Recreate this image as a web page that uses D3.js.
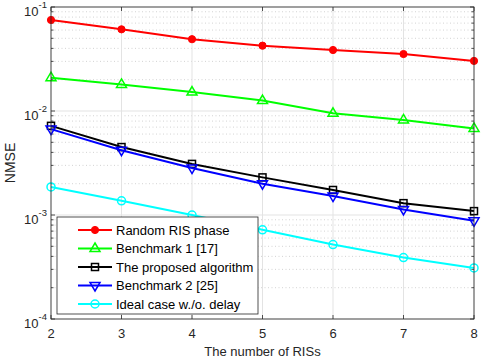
<!DOCTYPE html>
<html><head><meta charset="utf-8">
<script src="https://cdn.jsdelivr.net/npm/d3@7"></script>
<style>body{margin:0;background:#fff}svg{display:block;font-family:"Liberation Sans",Arial,sans-serif}</style>
</head><body>
<svg id="c" width="485" height="363"></svg>
<script>
const xValues = [2,3,4,5,6,7,8];
const seriesNames = ["Random RIS phase","Benchmark 1 [17]","The proposed algorithm","Benchmark 2 [25]","Ideal case w./o. delay"];
const randomPhase = [0.075,0.061,0.049,0.0425,0.0386,0.0353,0.0303];
const benchmark1 = [0.0209,0.018,0.0152,0.0126,0.0095,0.0082,0.0068];
const proposed = [0.0072,0.0045,0.0031,0.0023,0.00174,0.0013,0.00109];
const benchmark2 = [0.0067,0.0042,0.00283,0.0020,0.00152,0.00113,0.00088];
const idealCase = [0.00186,0.00137,0.00100,0.00072,0.00052,0.00039,0.00031];
const yTickExps = [-1,-2,-3,-4];
const xLabel = "The number of RISs";
const yLabel = "NMSE";

const colors = ["#ff0000","#00ff00","#000000","#0000ff","#00ffff"];
const markers = ["dot","tri","sq","trid","circ"];
const data = [randomPhase,benchmark1,proposed,benchmark2,idealCase];

const svg = d3.select("#c");
const L=51,R=474,T=7,B=319;
const x = d3.scaleLinear().domain([2,8]).range([L,R]);
const y = d3.scaleLog().domain([1e-4,1e-1]).range([B,T]);

// grid
const g = svg.append("g");
const minors=[];
for(let e=-4;e<-1;e++) for(let k=2;k<=9;k++) minors.push(k*Math.pow(10,e));
g.selectAll(".mg").data(minors).join("line")
 .attr("x1",L).attr("x2",R).attr("y1",d=>y(d)).attr("y2",d=>y(d))
 .attr("stroke","#c8c8c8").attr("stroke-width",0.8).attr("stroke-dasharray","1,2.5");
g.selectAll(".Mg").data(yTickExps).join("line")
 .attr("x1",L).attr("x2",R).attr("y1",d=>y(Math.pow(10,d))).attr("y2",d=>y(Math.pow(10,d)))
 .attr("stroke","#e3e3e3").attr("stroke-width",1);
g.selectAll(".xg").data(xValues).join("line")
 .attr("x1",d=>x(d)).attr("x2",d=>x(d)).attr("y1",T).attr("y2",B)
 .attr("stroke","#e3e3e3").attr("stroke-width",1);

// axes ticks
const ax="#262626";
const tk=svg.append("g").attr("stroke",ax).attr("stroke-width",0.8);
xValues.forEach(v=>{
  tk.append("line").attr("x1",x(v)).attr("x2",x(v)).attr("y1",B).attr("y2",B-4);
  tk.append("line").attr("x1",x(v)).attr("x2",x(v)).attr("y1",T).attr("y2",T+4);
});
yTickExps.forEach(e=>{
  const yy=y(Math.pow(10,e));
  tk.append("line").attr("x1",L).attr("x2",L+4).attr("y1",yy).attr("y2",yy);
  tk.append("line").attr("x1",R).attr("x2",R-4).attr("y1",yy).attr("y2",yy);
});
minors.forEach(v=>{
  const yy=y(v);
  tk.append("line").attr("x1",L).attr("x2",L+2.5).attr("y1",yy).attr("y2",yy);
  tk.append("line").attr("x1",R).attr("x2",R-2.5).attr("y1",yy).attr("y2",yy);
});

// series
const line=d3.line().x((d,i)=>x(xValues[i])).y(d=>y(d));
function marker(sel,type,col,cx,cy){
  if(type==="dot"){sel.append("circle").attr("cx",cx).attr("cy",cy).attr("r",3.6).attr("fill",col).attr("stroke",col);}
  else if(type==="circ"){sel.append("circle").attr("cx",cx).attr("cy",cy).attr("r",4).attr("fill","none").attr("stroke",col).attr("stroke-width",1.5);}
  else if(type==="sq"){sel.append("rect").attr("x",cx-3.5).attr("y",cy-3.5).attr("width",7).attr("height",7).attr("fill","none").attr("stroke",col).attr("stroke-width",1.5);}
  else if(type==="tri"){sel.append("path").attr("d",`M${cx},${cy-5.5}L${cx+5},${cy+3}L${cx-5},${cy+3}Z`).attr("fill","none").attr("stroke",col).attr("stroke-width",1.5);}
  else if(type==="trid"){sel.append("path").attr("d",`M${cx},${cy+5.5}L${cx+5},${cy-3}L${cx-5},${cy-3}Z`).attr("fill","none").attr("stroke",col).attr("stroke-width",1.5);}
}
data.forEach((s,k)=>{
  const gg=svg.append("g");
  gg.append("path").attr("d",line(s)).attr("fill","none").attr("stroke",colors[k]).attr("stroke-width",2);
  s.forEach((v,i)=>marker(gg,markers[k],colors[k],x(xValues[i]),y(v)));
});

// box
svg.append("rect").attr("x",L).attr("y",T).attr("width",R-L).attr("height",B-T)
 .attr("fill","none").attr("stroke",ax).attr("stroke-width",0.8);

// tick labels
const tl=svg.append("g").attr("fill","#262626").attr("font-size",13);
xValues.forEach(v=>tl.append("text").attr("x",x(v)).attr("y",B+19).attr("text-anchor","middle").text(v));
yTickExps.forEach(e=>{
  const t=tl.append("text").attr("x",L-4).attr("y",y(Math.pow(10,e))+9).attr("text-anchor","end");
  t.append("tspan").text("10");
  t.append("tspan").attr("font-size",9.5).attr("dy",-8).text(e);
});
tl.append("text").attr("x",(L+R)/2).attr("y",B+37).attr("text-anchor","middle").text(xLabel);
tl.append("text").attr("transform",`translate(15,${(T+B)/2}) rotate(-90)`).attr("text-anchor","middle").attr("font-size",14).text(yLabel);

// legend
const lg=svg.append("g");
lg.append("rect").attr("x",57).attr("y",217).attr("width",201).attr("height",97).attr("fill","#fff").attr("stroke",ax).attr("stroke-width",0.8);
seriesNames.forEach((n,k)=>{
  const yy=230+k*18.5;
  lg.append("line").attr("x1",78).attr("x2",112).attr("y1",yy).attr("y2",yy).attr("stroke",colors[k]).attr("stroke-width",2);
  marker(lg,markers[k],colors[k],95,yy);
  lg.append("text").attr("x",116).attr("y",yy+4.5).attr("font-size",13).attr("fill","#000").text(n);
});
</script>
</body></html>
